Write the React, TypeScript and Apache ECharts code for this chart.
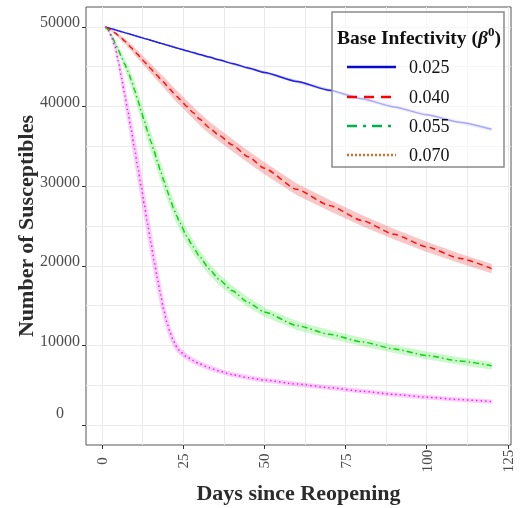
import React, { useEffect, useRef } from "react";
import * as echarts from "echarts";

// Days since reopening (shared x values)
const days = [1,2,3,4,5,6,7,8,9,10,11,12,13,14,15,16,17,18,19,20,21,22,23,24,26,28,30,33,36,40,45,50,60,70,80,90,100,110,120];

const betaLabels = ["0.025", "0.040", "0.055", "0.070"];

// Mean number of susceptibles per base infectivity
const s025 = [50000,49880,49760,49640,49520,49400,49280,49160,49040,48920,48800,48680,48560,48440,48320,48200,48080,47960,47840,47720,47600,47480,47360,47240,47010,46780,46550,46210,45870,45420,44850,44280,43150,42050,40980,39950,38970,38040,37150];
const s040 = [50000,49780,49520,49230,48910,48570,48200,47800,47380,46950,46520,46080,45640,45200,44760,44330,43900,43470,43050,42600,42150,41700,41300,40900,40050,39250,38450,37350,36400,35200,33700,32250,29600,27580,25700,23950,22380,20950,19650];
const s055 = [50000,49600,48900,48000,47100,46200,45300,44400,43300,42100,40800,39500,38200,36900,35650,34400,33150,31900,30700,29500,28350,27250,26250,25350,23750,22400,21200,19600,18300,16900,15400,14200,12500,11400,10450,9550,8750,8050,7450];
const s070 = [50000,49500,48600,47500,45700,43600,41400,39200,37000,34700,32400,30100,27700,25300,23000,20700,18500,16400,14500,12850,11550,10550,9800,9250,8600,8100,7700,7200,6800,6350,5950,5650,5150,4700,4250,3850,3500,3200,2950];

// Half-widths of the uncertainty ribbons
const h025 = [0,20,30,40,50,55,60,65,70,75,80,82,85,88,90,92,95,98,100,102,105,108,110,112,118,122,128,135,140,150,160,170,185,200,210,220,230,240,250];
const h040 = [0,60,120,180,230,280,330,370,410,450,490,520,550,580,600,620,640,660,680,700,710,720,730,740,750,760,770,770,770,770,760,750,730,710,690,660,630,600,570];
const h055 = [0,100,200,320,440,560,680,800,900,1000,1080,1140,1180,1200,1220,1220,1200,1180,1150,1120,1080,1040,1000,960,900,850,800,750,700,650,610,580,550,530,510,500,490,480,470];
const h070 = [0,150,350,600,850,1100,1300,1500,1650,1750,1800,1850,1850,1850,1800,1750,1650,1500,1300,1100,900,750,620,520,430,390,360,340,320,310,300,300,290,290,280,280,280,270,270];

const xTickValues = [0, 25, 50, 75, 100, 125];
const xGridValues = [0, 12.5, 25, 37.5, 50, 62.5, 75, 87.5, 100, 112.5, 125];
const yTickValues = [0, 10000, 20000, 30000, 40000, 50000];
const yGridValues = [0, 5000, 10000, 15000, 20000, 25000, 30000, 35000, 40000, 45000, 50000];

const FONT = "Liberation Serif";

const styles = [
  { line: "#1f1fe6", dash: "solid" as any, band: "rgba(70,70,255,0.25)", legend: "#0a0acc", legendDash: null as any },
  { line: "#ff1010", dash: [6, 4], band: "rgba(240,70,70,0.3)", legend: "#ff0000", legendDash: [10, 7] },
  { line: "#10d010", dash: [6, 3, 1.5, 3], band: "rgba(70,235,70,0.28)", legend: "#00b04a", legendDash: [10, 6, 3, 6] },
  { line: "#f020f0", dash: [1.5, 3], band: "rgba(245,90,245,0.3)", legend: "#d0702a", legendDash: [2, 2] },
];

export default function App() {
  const ref = useRef<HTMLDivElement>(null);
  useEffect(() => {
    if (!ref.current) return;
    const chart = echarts.init(ref.current, null, { renderer: "svg" });
    const means = [s025, s040, s055, s070];
    const halves = [h025, h040, h055, h070];

    const bandSeries: any[] = [];
    const lineSeries: any[] = [];
    means.forEach((m, i) => {
      const h = halves[i];
      bandSeries.push({
        type: "custom", silent: true, z: 1,
        data: [[days[0], m[0]]],
        renderItem: (_params: any, api: any) => {
          const upper = days.map((d, j) => api.coord([d, m[j] + h[j]]));
          const lower = days.map((d, j) => api.coord([d, m[j] - h[j]])).reverse();
          return {
            type: "polygon",
            shape: { points: [...upper, ...lower] },
            style: { fill: styles[i].band, stroke: "none" },
          };
        },
      });
      lineSeries.push({
        type: "line", name: betaLabels[i], symbol: "none", silent: true, z: 3,
        smooth: 0.2, smoothMonotone: "x",
        lineStyle: { color: styles[i].line, width: 1.5, type: styles[i].dash },
        data: days.map((d, j) => [d, m[j]]),
      });
    });

    const rowY = [67, 97, 126, 155];
    const legendGraphics: any[] = [
      {
        type: "rect", z: 100,
        shape: { x: 332, y: 12, width: 172, height: 155 },
        style: { fill: "rgba(255,255,255,0.62)", stroke: "#8a8a8a", lineWidth: 1.5 },
      },
      {
        type: "text", z: 101, x: 419, y: 37,
        style: {
          text: "{b|Base Infectivity (}{g|β}{s|0}{b|)}",
          align: "center", verticalAlign: "middle",
          rich: {
            b: { fontFamily: FONT, fontWeight: "bold", fontSize: 19.5, lineHeight: 24, fill: "#111" },
            g: { fontFamily: FONT, fontWeight: "bold", fontStyle: "italic", fontSize: 19.5, lineHeight: 24, fill: "#111" },
            s: { fontFamily: FONT, fontWeight: "bold", fontSize: 13, lineHeight: 13, verticalAlign: "top", fill: "#111" },
          },
        },
      },
    ];
    betaLabels.forEach((lab, i) => {
      legendGraphics.push({
        type: "line", z: 101,
        shape: { x1: 347, y1: rowY[i], x2: 396, y2: rowY[i] },
        style: { stroke: styles[i].legend, lineWidth: 2.5, lineDash: styles[i].legendDash },
      });
      legendGraphics.push({
        type: "text", z: 101, x: 409, y: rowY[i],
        style: { text: lab, fontFamily: FONT, fontSize: 18, fill: "#111", verticalAlign: "middle", align: "left" },
      });
    });

    const option: any = {
      animation: false,
      grid: { left: 86, top: 7, right: 17, bottom: 60, show: true, borderColor: "#555", borderWidth: 1, backgroundColor: "#fff" },
      xAxis: [
        {
          type: "value", min: -4.95, max: 125.95, position: "bottom",
          axisLine: { show: false, onZero: false },
          axisTick: { show: false, customValues: xGridValues },
          axisLabel: { show: false },
          splitLine: { show: true, lineStyle: { color: "#ebebeb", width: 1 } },
          name: "Days since Reopening", nameLocation: "middle", nameGap: 47,
          nameTextStyle: { fontFamily: FONT, fontSize: 22, fontWeight: "bold", color: "#2b2b2b", verticalAlign: "middle" },
        },
        {
          type: "value", min: -4.95, max: 125.95, position: "bottom",
          axisLine: { show: false, onZero: false },
          axisTick: { show: true, length: 4, customValues: xTickValues, lineStyle: { color: "#333" } },
          axisLabel: {
            customValues: xTickValues, rotate: 90, align: "center", verticalAlign: "middle", margin: 16,
            fontFamily: FONT, fontSize: 15, color: "#4d4d4d",
          },
          splitLine: { show: false },
        },
      ],
      yAxis: [
        {
          type: "value", min: -2500, max: 52500, position: "left",
          axisLine: { show: false, onZero: false },
          axisTick: { show: false, customValues: yGridValues },
          axisLabel: { show: false },
          splitLine: { show: true, lineStyle: { color: "#ebebeb", width: 1 } },
          name: "Number of Susceptibles", nameLocation: "middle", nameGap: 61,
          nameTextStyle: { fontFamily: FONT, fontSize: 22, fontWeight: "bold", color: "#2b2b2b", verticalAlign: "middle" },
        },
        {
          type: "value", min: -2500, max: 52500, position: "left",
          axisLine: { show: false, onZero: false },
          axisTick: { show: true, length: 4, customValues: yTickValues, lineStyle: { color: "#333" } },
          axisLabel: {
            customValues: yTickValues, align: "center", verticalAlign: "bottom", margin: 26, lineHeight: 10,
            fontFamily: FONT, fontSize: 16, color: "#4d4d4d",
            formatter: (v: number) => (v === 0 ? "{z|0}" : String(v)),
            rich: { z: { fontFamily: FONT, fontSize: 16, color: "#4d4d4d", lineHeight: 26 } },
          },
          splitLine: { show: false },
        },
      ],
      series: [...bandSeries, ...lineSeries],
      graphic: legendGraphics,
    };
    chart.setOption(option);
    return () => chart.dispose();
  }, []);

  return <div ref={ref} style={{ position: "fixed", left: 0, top: 0, width: 528, height: 508 }} />;
}
